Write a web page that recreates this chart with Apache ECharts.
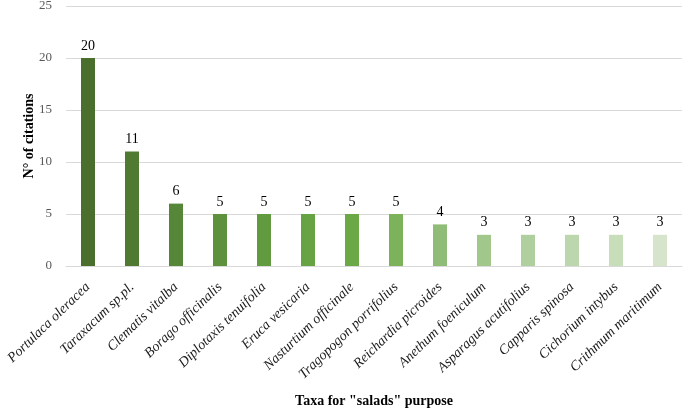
<!DOCTYPE html>
<html><head><meta charset="utf-8">
<script src="https://cdn.jsdelivr.net/npm/echarts@6/dist/echarts.min.js"></script>
<style>html,body{margin:0;padding:0;background:#fff}#c{width:685px;height:412px}</style>
</head><body><div id="c"></div>
<script>
const categories = ["Portulaca oleracea","Taraxacum sp.pl.","Clematis vitalba","Borago officinalis","Diplotaxis tenuifolia","Eruca vesicaria","Nasturtium officinale","Tragopogon porrifolius","Reichardia picroides","Anethum foeniculum","Asparagus acutifolius","Capparis spinosa","Cichorium intybus","Crithmum maritimum"];
const citations = [20,11,6,5,5,5,5,5,4,3,3,3,3,3];
const barColors = ["#4a6e2b","#507a32","#568638","#5d913c","#629a40","#67a343","#6ba946","#7cb35a","#8fbc76","#a1c78b","#b0cf9f","#bcd7ae","#c8debb","#d5e4cb"];
const yTicks = [0,5,10,15,20,25];

const chart = echarts.init(document.getElementById('c'), null, {renderer:'canvas'});
chart.setOption({
  animation:false,
  textStyle:{fontFamily:'"Liberation Serif", "Times New Roman", serif'},
  grid:{left:66,right:3,top:6,bottom:146,containLabel:false,outerBoundsMode:'none'},
  xAxis:{
    type:'category', data:categories,
    name:'Taxa for "salads" purpose', nameLocation:'middle', nameGap:128,
    nameTextStyle:{fontWeight:'bold',fontSize:14,color:'#000',fontFamily:'"Liberation Serif", serif'},
    axisLine:{lineStyle:{color:'#d9d9d9',width:1}},
    axisTick:{show:false},
    axisLabel:{interval:0,rotate:44,fontStyle:'italic',fontSize:14,color:'#1a1a1a',margin:19,fontFamily:'"Liberation Serif", serif'}
  },
  yAxis:{
    type:'value', min:yTicks[0], max:yTicks[yTicks.length-1], interval:5,
    name:'N° of citations', nameLocation:'middle', nameGap:30, nameRotate:90, nameMoveOverlap:false,
    nameTextStyle:{fontWeight:'bold',fontSize:14,color:'#000',fontFamily:'"Liberation Serif", serif'},
    axisLine:{show:false}, axisTick:{show:false},
    axisLabel:{fontSize:13,color:'#595959',margin:14,fontFamily:'"Liberation Serif", serif'},
    splitLine:{lineStyle:{color:'#d9d9d9',width:1}}
  },
  series:[{
    type:'bar', barWidth:14,
    data:citations.map((v,i)=>({value:v,itemStyle:{color:barColors[i]}})),
    label:{show:true,position:'top',distance:5,fontSize:14,color:'#000',fontFamily:'"Liberation Serif", serif'}
  }]
});
</script></body></html>
